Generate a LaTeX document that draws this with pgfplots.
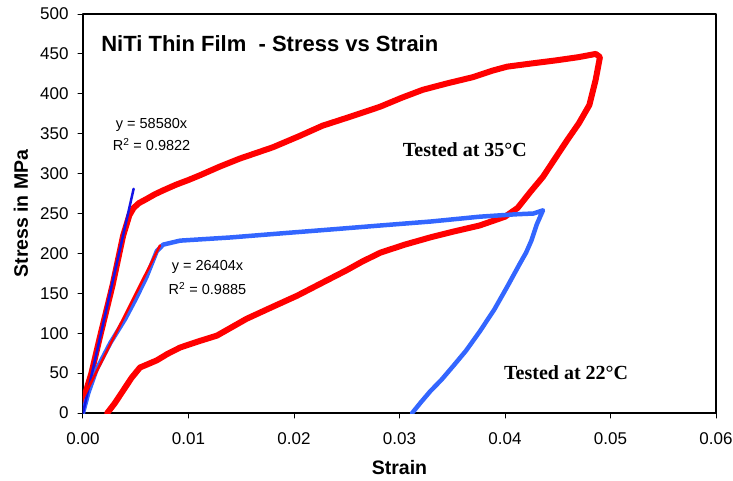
\documentclass[border=0pt]{standalone}
\usepackage{fontspec}
\setmainfont{Liberation Sans}
\newfontfamily\timesfont{Liberation Serif}
\usepackage{pgfplots}
\pgfplotsset{compat=1.18}

\definecolor{hotred}{RGB}{255,0,0}
\definecolor{coolblue}{RGB}{51,102,255}
\definecolor{fitblue}{RGB}{20,20,230}

% 35 C test, loading then unloading
\pgfplotstableread{
x y
0.0000 15
0.0008 50
0.0016 95
0.0028 160
0.0038 222
0.0044 248
0.0048 257
0.0053 263
0.0060 268
0.0068 274
0.0076 279
0.0088 286
0.0100 292
0.0111 298
0.0130 309
0.0149 319
0.0180 333
0.0205 347
0.0227 360
0.0255 372
0.0282 384
0.0302 395
0.0322 405
0.0345 413
0.0370 421
0.0388 429
0.0402 434
0.0425 438
0.0449 442
0.0470 446
0.0486 450
0.0490 446
0.0486 418
0.0480 386
0.0470 363
0.0459 342
0.0447 318
0.0436 296
0.0424 277
0.0412 257
0.0400 246
0.0376 235
0.0350 227
0.0329 220
0.0305 211
0.0282 201
0.0265 190
0.0250 179
0.0225 162
0.0203 147
0.0178 132
0.0155 118
0.0127 97
0.0110 90
0.0092 82
0.0080 74
0.0070 66
0.0054 57
0.0046 44
0.0038 28
0.0030 12
0.0023 0
}\hotdata

% 22 C test
\pgfplotstableread{
x y
0.0000 0
0.0005 25
0.0013 55
0.0026 88
0.0040 118
0.0050 143
0.0060 170
0.0070 203
0.0076 211
0.0092 216
0.0140 220
0.0187 225
0.0235 230
0.0282 235
0.0330 240
0.0376 246
0.0410 249
0.0427 250
0.0436 254
0.0433 245
0.0430 236
0.0425 216
0.0420 201
0.0414 187
0.0402 158
0.0390 130
0.0376 102
0.0363 78
0.0351 59
0.0340 42
0.0329 27
0.0320 13
0.0312 0
}\colddata

\begin{document}
\begin{tikzpicture}
\begin{axis}[at={(0,0)}, anchor=south west,
  scale only axis, width=633pt, height=399pt,
  xmin=0, xmax=0.06, ymin=0, ymax=500,
  xtick={0,0.01,0.02,0.03,0.04,0.05,0.06},
  ytick={0,50,100,150,200,250,300,350,400,450,500},
  scaled x ticks=false,
  xticklabel style={yshift=-11pt, /pgf/number format/fixed,
    /pgf/number format/fixed zerofill, /pgf/number format/precision=2},
  /pgf/number format/assume math mode=true,
  tick label style={font=\fontsize{17}{19}\selectfont},
  yticklabel style={xshift=-6pt},
  tick align=outside, tick pos=left,
  major tick length=5pt,
  axis line style={line width=1.4pt},
  every tick/.style={black, line width=1pt},
  xlabel={Strain}, ylabel={Stress in MPa},
  label style={font=\bfseries\fontsize{19.5}{21}\selectfont},
  xlabel style={at={(axis description cs:0.5,-0.137)}, anchor=center},
  ylabel style={at={(axis description cs:-0.098,0.5)}, anchor=center},
  line join=round, line cap=round]
\addplot[hotred, line width=6pt] table[x=x, y=y] {\hotdata};
\addplot[coolblue, line width=4.5pt] table[x=x, y=y] {\colddata};
% linear fits of the elastic parts
\addplot[fitblue, line width=2.5pt] coordinates {(0,0) (0.0048,281)};
\addplot[hotred, line width=2.5pt] coordinates {(0,18) (0.0073,210)};

\node[anchor=west, font=\bfseries\fontsize{22}{24}\selectfont] at (axis cs:0.0014,463) {NiTi Thin Film\ \ - Stress vs Strain};
\node[font=\fontsize{14.5}{16}\selectfont] at (axis cs:0.0065,361) {y = 58580x};
\node[font=\fontsize{14.5}{16}\selectfont] at (axis cs:0.0065,336) {R\textsuperscript{2} = 0.9822};
\node[font=\fontsize{14.5}{16}\selectfont] at (axis cs:0.0118,183) {y = 26404x};
\node[font=\fontsize{14.5}{16}\selectfont] at (axis cs:0.0118,156) {R\textsuperscript{2} = 0.9885};
\node[font=\timesfont\bfseries\fontsize{20}{22}\selectfont] at (axis cs:0.0362,330) {Tested at 35°C};
\node[font=\timesfont\bfseries\fontsize{20}{22}\selectfont] at (axis cs:0.0458,51) {Tested at 22°C};
\end{axis}
\pgfresetboundingbox
\path[use as bounding box] (-83pt,-67pt) rectangle (650pt,413pt);
\end{tikzpicture}
\end{document}
